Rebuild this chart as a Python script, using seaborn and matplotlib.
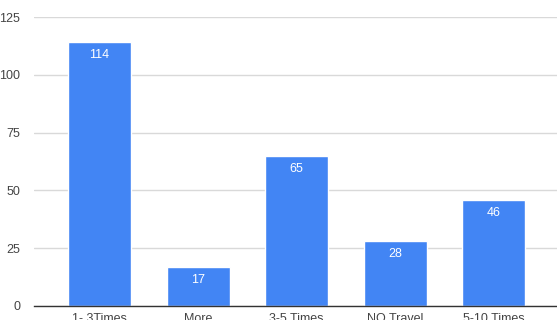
import matplotlib
matplotlib.use("Agg")
import matplotlib.pyplot as plt
import seaborn as sns
import pandas as pd

categories = ["1- 3Times", "More", "3-5 Times", "NO Travel", "5-10 Times"]
values = [114, 17, 65, 28, 46]
yticks = [0, 25, 50, 75, 100, 125]

sns.set_style("white")
plt.rcParams['font.family'] = ['Liberation Sans', 'DejaVu Sans']

df = pd.DataFrame({"cat": categories, "val": values})
fig = plt.figure(figsize=(5.57, 3.2), dpi=100)
ax = fig.add_axes([34/557, 14/320, (557-34)/557, 289/320])
sns.barplot(data=df, x="cat", y="val", color="#4285F4", saturation=1, width=0.64, ax=ax)
ax.set_ylim(0, 125)
ax.set_yticks(yticks)
ax.set_xlim(-0.664, 4.640)
ax.set_xlabel("")
ax.set_ylabel("")
for s in ["top", "right", "left"]:
    ax.spines[s].set_visible(False)
ax.spines["bottom"].set_color("#333333")
ax.spines["bottom"].set_linewidth(1)
ax.yaxis.grid(True, color="#d9d9d9", linewidth=1)
ax.set_axisbelow(True)
ax.tick_params(axis="both", length=0, labelsize=9, colors="#444444")
ax.tick_params(axis="x", pad=5)
ax.tick_params(axis="y", pad=10)
for p, v in zip(ax.patches, values):
    ax.annotate(str(v), (p.get_x() + p.get_width()/2, v), xytext=(0, -5),
                textcoords="offset points", ha="center", va="top",
                color="white", fontsize=9)
fig.savefig("out.png", dpi=100)
